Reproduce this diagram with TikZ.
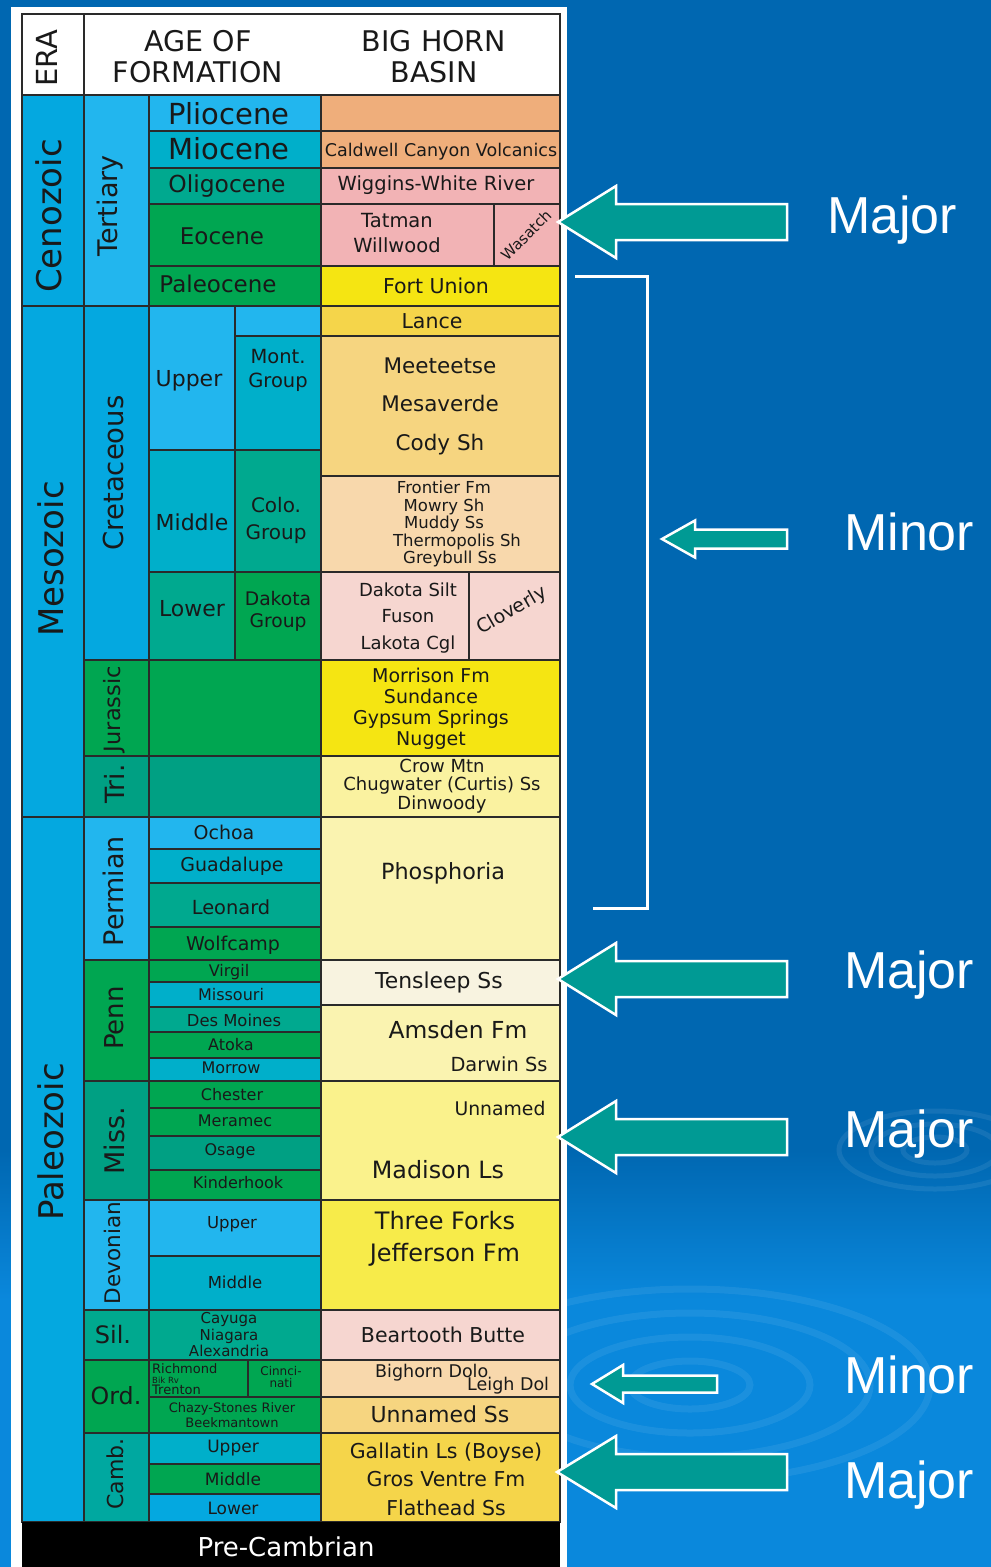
\documentclass[tikz,border=0pt]{standalone}
\usepackage{fontspec}
\setmainfont{DejaVu Sans}
\newfontfamily\markfont{Liberation Sans}
\newcommand{\fs}[2]{\fontsize{#1}{#2}\selectfont\lineskiplimit=-100pt}

% background and grid
\definecolor{bgblue}{HTML}{0067B1}
\definecolor{bglight}{HTML}{0A88DC}
\definecolor{gridline}{HTML}{2A2A2A}
\definecolor{arrowteal}{HTML}{009A94}
% age columns
\definecolor{eraBlue}{HTML}{04A8E0}
\definecolor{skyBlue}{HTML}{22B6EE}
\definecolor{tealBlue}{HTML}{00AFCA}
\definecolor{tealGreen}{HTML}{00A98F}
\definecolor{grassGreen}{HTML}{00A651}
\definecolor{deepTeal}{HTML}{00A083}
\definecolor{cambTeal}{HTML}{00A8A0}
% formation column
\definecolor{orangeF}{HTML}{EFAE7B}
\definecolor{pinkF}{HTML}{F2B3B5}
\definecolor{yellowF}{HTML}{F5E512}
\definecolor{goldF}{HTML}{F5D54A}
\definecolor{lightOrangeF}{HTML}{F6D580}
\definecolor{peachF}{HTML}{F8D8AC}
\definecolor{palePinkF}{HTML}{F6D6D0}
\definecolor{paleYellowF}{HTML}{FAF3B0}
\definecolor{creamF}{HTML}{F8F3E0}
\definecolor{lightYellowF}{HTML}{FAF28C}
\definecolor{crowF}{HTML}{FAF2A0}
\definecolor{threeF}{HTML}{F7EB4A}

\tikzset{
  cell/.style={draw=gridline, line width=1.5pt},
  lbl/.style={inner sep=0pt, align=center, text=black!90},
  vlbl/.style={lbl, rotate=90},
  marklabel/.style={inner sep=0pt, anchor=base west, text=white, font=\markfont\fs{52}{60}},
  shiftarrow/.style={fill=arrowteal, draw=white, line width=2.5pt, line join=miter},
}

% tip x, tip y, head base x, tail x, half head, half shaft
\newcommand{\blockarrow}[6]{%
  \filldraw[shiftarrow] (#1,#2) -- (#3,#2-#5) -- (#3,#2-#6) -- (#4,#2-#6)
    -- (#4,#2+#6) -- (#3,#2+#6) -- (#3,#2+#5) -- cycle;}

\begin{document}
\begin{tikzpicture}[x=1pt, y=-1pt]
\useasboundingbox (0,0) rectangle (991,1567);

% Fondo
\fill[bgblue] (0,0) rectangle (991,1567);
\shade[top color=bgblue, bottom color=bglight] (0,1150) rectangle (991,1300);
\fill[bglight] (0,1300) rectangle (991,1567);
\foreach \r in {1,...,4}
  \draw[white, opacity=0.07, line width=7pt] (690,1385) ellipse ({\r*60} and {\r*24});
\foreach \r in {1,2,3}
  \draw[white, opacity=0.08, line width=5pt] (935,1150) ellipse ({\r*32} and {\r*13});

\fill[white] (11,7) rectangle (567,1567);

% Celdas: x1/y1/x2/y2/color
\foreach \xa/\ya/\xb/\yb/\col in {
  22/14/84/95/white, 84/14/560/95/white,
  22/95/84/306/eraBlue, 22/306/84/817/eraBlue, 22/817/84/1522/eraBlue,
  84/95/149/306/skyBlue, 84/306/149/660/eraBlue, 84/660/149/756/grassGreen,
  84/756/149/817/deepTeal, 84/817/149/960/skyBlue, 84/960/149/1081/grassGreen,
  84/1081/149/1200/deepTeal, 84/1200/149/1310/skyBlue, 84/1310/149/1360/tealGreen,
  84/1360/149/1433/grassGreen, 84/1433/149/1522/cambTeal}
  \filldraw[cell, fill=\col] (\xa,\ya) rectangle (\xb,\yb);

\foreach \xa/\ya/\xb/\yb/\col in {
  149/95/321/131/skyBlue, 149/131/321/168/tealBlue, 149/168/321/204/tealGreen,
  149/204/321/266/grassGreen, 149/266/321/306/grassGreen,
  149/306/235/450/skyBlue, 235/306/321/336/skyBlue, 235/336/321/450/tealBlue,
  149/450/235/572/tealBlue, 235/450/321/572/tealGreen,
  149/572/235/660/tealGreen, 235/572/321/660/grassGreen,
  149/660/321/756/grassGreen, 149/756/321/817/deepTeal,
  149/817/321/849/skyBlue, 149/849/321/883/tealBlue, 149/883/321/927/tealGreen,
  149/927/321/960/grassGreen,
  149/960/321/982/grassGreen, 149/982/321/1007/tealBlue, 149/1007/321/1032/tealGreen,
  149/1032/321/1058/grassGreen, 149/1058/321/1081/tealBlue,
  149/1081/321/1108/grassGreen, 149/1108/321/1136/grassGreen, 149/1136/321/1170/deepTeal,
  149/1170/321/1200/grassGreen,
  149/1200/321/1256/skyBlue, 149/1256/321/1310/tealBlue, 149/1310/321/1360/tealGreen,
  149/1360/248/1397/grassGreen, 248/1360/321/1397/grassGreen, 149/1397/321/1433/grassGreen,
  149/1433/321/1464/tealBlue, 149/1464/321/1494/grassGreen, 149/1494/321/1522/eraBlue}
  \filldraw[cell, fill=\col] (\xa,\ya) rectangle (\xb,\yb);

\foreach \xa/\ya/\xb/\yb/\col in {
  321/95/560/131/orangeF, 321/131/560/168/orangeF, 321/168/560/204/pinkF,
  321/204/494/266/pinkF, 494/204/560/266/pinkF, 321/266/560/306/yellowF,
  321/306/560/336/goldF, 321/336/560/476/lightOrangeF, 321/476/560/572/peachF,
  321/572/469/660/palePinkF, 469/572/560/660/palePinkF,
  321/660/560/756/yellowF, 321/756/560/817/crowF, 321/817/560/960/paleYellowF,
  321/960/560/1005/creamF, 321/1005/560/1081/paleYellowF, 321/1081/560/1200/lightYellowF,
  321/1200/560/1310/threeF, 321/1310/560/1360/palePinkF, 321/1360/560/1397/peachF,
  321/1397/560/1433/lightOrangeF, 321/1433/560/1522/goldF}
  \filldraw[cell, fill=\col] (\xa,\ya) rectangle (\xb,\yb);

\fill[black] (22,1522) rectangle (560,1567);

% Encabezado
\node[vlbl, font=\fs{29}{31}] (era) at (47,58) {ERA};
\node[lbl, font=\fs{28.5}{31}] (agehead) at (198,57) {AGE OF\\FORMATION};
\node[lbl, font=\fs{28.5}{31}] (basinhead) at (434,57) {BIG HORN\\BASIN};

% Eras
\node[vlbl, font=\fs{34}{36}] (ceno) at (49,216) {Cenozoic};
\node[vlbl, font=\fs{34}{36}] (meso) at (51,559) {Mesozoic};
\node[vlbl, font=\fs{34}{36}] (paleo) at (51,1142) {Paleozoic};

% Periodos
\node[vlbl, font=\fs{27}{29}] (tert) at (110,206) {Tertiary};
\node[vlbl, font=\fs{27.5}{29}] (cret) at (113,473) {Cretaceous};
\node[vlbl, font=\fs{22.5}{24}] (jur) at (114,709) {Jurassic};
\node[vlbl, font=\fs{26.5}{28}] (tri) at (114,784) {Tri.};
\node[vlbl, font=\fs{27}{29}] (perm) at (113,891) {Permian};
\node[vlbl, font=\fs{26}{28}] (penn) at (114,1018) {Penn};
\node[vlbl, font=\fs{27}{29}] (miss) at (114,1141) {Miss.};
\node[vlbl, font=\fs{21.5}{23}] (devo) at (112,1253) {Devonian};
\node[lbl, font=\fs{24}{26}] (sil) at (113,1335) {Sil.};
\node[lbl, font=\fs{23.7}{26}] (ord) at (116,1396) {Ord.};
\node[vlbl, font=\fs{22}{24}] (camb) at (115,1474) {Camb.};

% Epocas
\node[lbl, font=\fs{29}{31}] (plio) at (229,114) {Pliocene};
\node[lbl, font=\fs{29}{31}] (mio) at (229,149) {Miocene};
\node[lbl, font=\fs{23.4}{25}] (oligo) at (227,186) {Oligocene};
\node[lbl, font=\fs{23}{25}] (eoc) at (222,236) {Eocene};
\node[lbl, font=\fs{23}{25}] (paleoc) at (218,284) {Paleocene};
\node[lbl, font=\fs{22}{24}] (kupper) at (189,381) {Upper};
\node[lbl, font=\fs{19.5}{24}] (mont) at (278,370) {Mont.\\Group};
\node[lbl, font=\fs{22}{24}] (kmiddle) at (192,522) {Middle};
\node[lbl, font=\fs{20}{27}] (colo) at (276,520) {Colo.\\Group};
\node[lbl, font=\fs{22}{24}] (klower) at (192,609) {Lower};
\node[lbl, font=\fs{18.7}{22}] (dakgrp) at (278,611) {Dakota\\Group};
\node[lbl, font=\fs{19}{21}] (ochoa) at (224,832) {Ochoa};
\node[lbl, font=\fs{19}{21}] (guada) at (232,866) {Guadalupe};
\node[lbl, font=\fs{19.4}{21}] (leon) at (231,907) {Leonard};
\node[lbl, font=\fs{19}{21}] (wolf) at (233,945) {Wolfcamp};
\node[lbl, font=\fs{16}{18}] (virgil) at (229,972) {Virgil};
\node[lbl, font=\fs{16}{18}] (misso) at (231,995) {Missouri};
\node[lbl, font=\fs{16.4}{18}] (desm) at (234,1020) {Des Moines};
\node[lbl, font=\fs{16}{18}] (atoka) at (231,1045) {Atoka};
\node[lbl, font=\fs{16}{18}] (morrow) at (231,1068) {Morrow};
\node[lbl, font=\fs{16}{18}] (chest) at (232,1095) {Chester};
\node[lbl, font=\fs{16}{18}] (meram) at (235,1121) {Meramec};
\node[lbl, font=\fs{16}{18}] (osage) at (230,1151) {Osage};
\node[lbl, font=\fs{16}{18}] (kinder) at (238,1183) {Kinderhook};
\node[lbl, font=\fs{16.5}{18}] (dupper) at (232,1224) {Upper};
\node[lbl, font=\fs{16.5}{18}] (dmiddle) at (235,1282) {Middle};
\node[lbl, font=\fs{15}{16.5}] (cayuga) at (229,1335) {Cayuga\\Niagara\\Alexandria};
\node[lbl, font=\fs{13}{10.5}, align=left, anchor=north west] (richm) at (152,1363)
  {Richmond\\{\fs{8.5}{10.5}Bik Rv}\\Trenton};
\node[lbl, font=\fs{12}{12}] (cinnci) at (281,1377) {Cinnci-\\nati};
\node[lbl, font=\fs{13}{15.5}] (chazy) at (232,1415) {Chazy-Stones River\\Beekmantown};
\node[lbl, font=\fs{17}{19}] (cupper) at (233,1448) {Upper};
\node[lbl, font=\fs{17}{19}] (cmiddle) at (233,1479) {Middle};
\node[lbl, font=\fs{17}{19}] (clower) at (233,1508) {Lower};

% Formaciones
\node[lbl, font=\fs{17.5}{19}] (caldw) at (441,152) {Caldwell Canyon Volcanics};
\node[lbl, font=\fs{19.5}{21}] (wiggins) at (436,185) {Wiggins-White River};
\node[lbl, font=\fs{19.5}{25}] (tatman) at (397,233) {Tatman\\Willwood};
\node[lbl, font=\fs{15}{16}, rotate=45] (wasatch) at (526,235) {Wasatch};
\node[lbl, font=\fs{20.5}{22}] (fortu) at (436,286) {Fort Union};
\node[lbl, font=\fs{20.5}{22}] (lance) at (432,321) {Lance};
\node[lbl, font=\fs{21.5}{38.5}] (meet) at (440,406) {Meeteetse\\Mesaverde\\Cody Sh};
\node[lbl, font=\fs{16.5}{17.5}] (front) at (444,524)
  {Frontier Fm\\Mowry Sh\\Muddy Ss\\\hspace*{26pt}Thermopolis Sh\\\hspace*{12pt}Greybull Ss};
\node[lbl, font=\fs{18}{26.5}] (daksilt) at (408,618) {Dakota Silt\\Fuson\\Lakota Cgl};
\node[lbl, font=\fs{19}{20}, rotate=30] (clov) at (512,611) {Cloverly};
\node[lbl, font=\fs{19}{21}] (morris) at (431,709) {Morrison Fm\\Sundance\\Gypsum Springs\\Nugget};
\node[lbl, font=\fs{18}{18.5}] (crow) at (442,786) {Crow Mtn\\Chugwater (Curtis) Ss\\Dinwoody};
\node[lbl, font=\fs{22.3}{24}] (phos) at (443,873) {Phosphoria};
\node[lbl, font=\fs{21.9}{24}] (tens) at (439,982) {Tensleep Ss};
\node[lbl, font=\fs{23.4}{25}] (amsden) at (458,1030) {Amsden Fm};
\node[lbl, font=\fs{19.4}{21}] (darwin) at (499,1064) {Darwin Ss};
\node[lbl, font=\fs{18.8}{21}] (unnam) at (500,1108) {Unnamed};
\node[lbl, font=\fs{23.8}{25}] (madis) at (438,1170) {Madison Ls};
\node[lbl, font=\fs{24}{32}] (threef) at (445,1239) {Three Forks\\Jefferson Fm};
\node[lbl, font=\fs{20.5}{22}] (beart) at (443,1335) {Beartooth Butte};
\node[lbl, font=\fs{17.5}{13}, align=left, anchor=base west] (bighorn) at (375,1390)
  {Bighorn Dolo\\\hspace*{92pt}Leigh Dol};
\node[lbl, font=\fs{22}{24}] (unnss) at (440,1414) {Unnamed Ss};
\node[lbl, font=\fs{20.5}{28.5}] (gallat) at (446,1479) {Gallatin Ls (Boyse)\\Gros Ventre Fm\\Flathead Ss};
\node[lbl, font=\fs{26}{28}, text=white] (precamb) at (286,1547) {Pre-Cambrian};

% Discordancias
\blockarrow{558}{222}{616}{787}{36}{18}
\blockarrow{662}{539}{695}{787}{18.5}{9.5}
\blockarrow{558}{979}{616}{787}{36}{18}
\blockarrow{558}{1137}{616}{787}{36}{18}
\blockarrow{592}{1384}{623}{717}{19}{8.5}
\blockarrow{557}{1472}{616}{787}{36}{18}

\draw[white, line width=3pt] (575,276) -- (647,276) -- (647,908) -- (593,908);

\node[marklabel] (major1) at (827,233) {Major};
\node[marklabel] (minor1) at (844,550) {Minor};
\node[marklabel] (major2) at (844,988) {Major};
\node[marklabel] (major3) at (844,1147) {Major};
\node[marklabel] (minor2) at (844,1393) {Minor};
\node[marklabel] (major4) at (844,1498) {Major};
\end{tikzpicture}
\end{document}
